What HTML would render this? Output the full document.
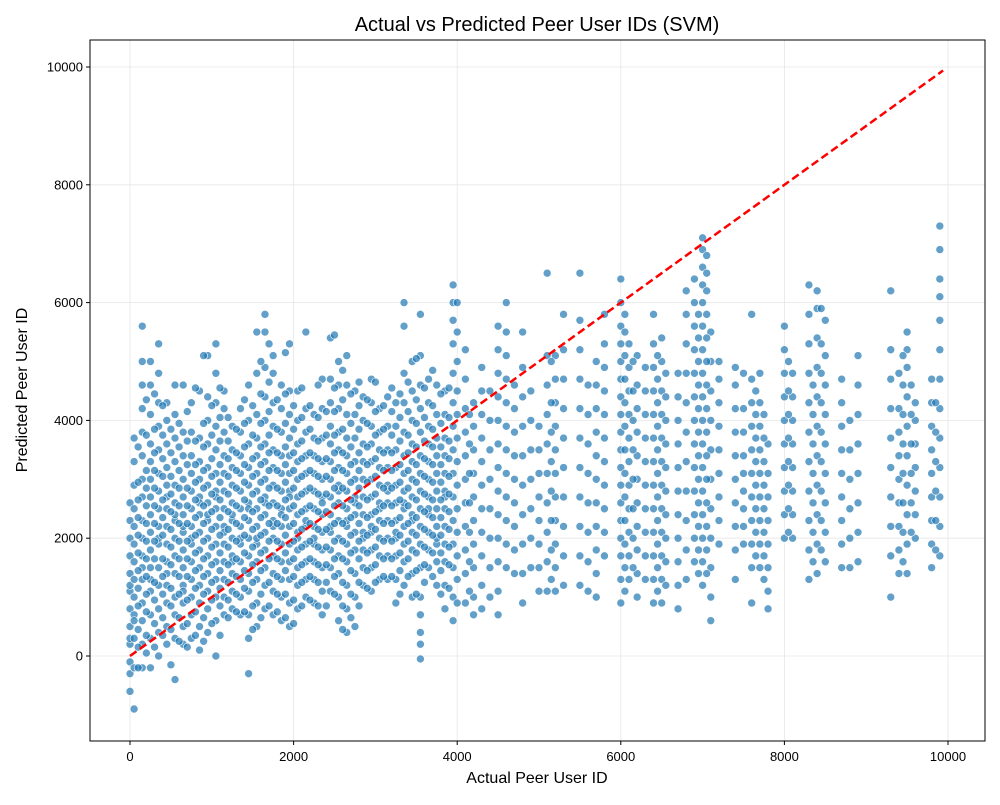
<!DOCTYPE html>
<html><head><meta charset="utf-8"><style>
body{margin:0;background:#fff;font-family:"Liberation Sans",sans-serif}
svg text{font-family:"Liberation Sans",sans-serif}
</style></head><body>
<svg id="chart" width="1000" height="800" xmlns="http://www.w3.org/2000/svg">
<rect width="1000" height="800" fill="#fff"/>
<text x="537" y="31" font-size="20" text-anchor="middle">Actual vs Predicted Peer User IDs (SVM)</text>
<text x="537" y="783" font-size="16" text-anchor="middle">Actual Peer User ID</text>
<text x="27" y="390" font-size="16" text-anchor="middle" transform="rotate(-90 27 390)">Predicted Peer User ID</text>
<g id="grid"></g><g id="pts"></g><g id="ln"></g><g id="ax"></g>
<rect x="90" y="40" width="895" height="701" fill="none" stroke="#000" stroke-width="1"/>
</svg>
<script>
const xTicks=[0,2000,4000,6000,8000,10000];
const yTicks=[0,2000,4000,6000,8000,10000];
const lineX=[0,9940];
const lineY=[0,9940];
const colX=[0,50,150,250,350,450,550,650,750,850,950,1050,1150,1250,1350,1450,1550,1650,1750,1850,1950,2050,2150,2250,2350,2450,2550,2650,2750,2850,2950,3050,3150,3250,3350,3450,3550,3650,3750,3850,3950,
4100,4200,4300,4500,4600,4700,4800,5000,5100,5200,5300,5500,5700,5800,6000,6100,6200,6300,6400,6500,6700,6800,6900,7000,7100,7200,7400,7500,7600,7700,7800,8000,8100,8300,8400,8500,8700,8800,8900,9300,9400,9500,9600,9800,9900];
const colY=[
[-300,-600,-100,200,500,800,1100,1400,1700,2000,2300,2600,300,1200],
[-900,-200,300,700,1000,1300,1600,1900,2200,2500,2900,3300,3700,600],
[-200,200,600,900,1300,1700,2000,2300,2700,3000,3400,3800,4200,4600,5000,5600,1500],
[-200,300,700,1100,1500,1800,2100,2400,2700,3000,3300,3600,4100,4600,5000,1300],
[0,400,800,1200,1500,1900,2200,2500,2800,3100,3500,3900,4300,4800,5300,2000],
[200,500,900,1200,1600,1900,2200,2500,2900,3200,3600,4000,4300,2700,1400],
[-400,300,700,1000,1400,1700,2000,2300,2600,2900,3300,3700,4100,4600,2400],
[200,500,900,1200,1500,1800,2100,2400,2700,3000,3400,3800,4600,2200,1100],
[300,700,1000,1300,1600,1900,2200,2500,2800,3100,3400,3800,4300,2000],
[100,500,900,1200,1500,1800,2100,2400,2700,3000,3300,3700,4500,2600],
[400,800,1100,1400,1700,2000,2300,2600,2900,3200,3600,4000,4400,5100,2400],
[0,600,1000,1300,1600,1900,2200,2500,2800,3100,3500,3900,4300,4800,5300,2700],
[700,1000,1300,1600,1900,2200,2500,2800,3100,3400,3800,4200,4500,2100],
[800,1100,1400,1700,2000,2300,2600,2900,3200,3500,3900,1600,2400],
[700,1000,1300,1600,1900,2200,2500,2800,3100,3400,3800,4200,2000],
[-300,300,700,1100,1400,1700,2000,2300,2600,2900,3200,3600,4000,4600,2500],
[500,900,1300,1600,1900,2200,2500,2800,3100,3400,3700,4100,4800,5500,2000],
[800,1200,1500,1800,2100,2400,2700,3000,3300,3600,4000,4400,4900,5500,5800,2600],
[700,1100,1400,1700,2000,2300,2600,2900,3200,3500,3900,4300,4800,5100,2200],
[600,1000,1300,1600,1900,2200,2500,2800,3100,3400,3800,4200,4600,2400],
[500,900,1300,1600,1900,2200,2500,2800,3100,3400,3700,4100,4500,5300,2700],
[800,1200,1500,1800,2100,2400,2700,3000,3300,3600,4000,4500,2000],
[1000,1300,1600,1900,2200,2500,2800,3100,3400,3800,4200,5500,2300],
[900,1300,1600,1900,2200,2500,2800,3100,3400,3700,4100,2000],
[700,1100,1500,1800,2100,2400,2700,3000,3300,3700,4200,4700,2600],
[1100,1500,1800,2100,2400,2700,3000,3300,3600,3900,4300,4700,5400,2200],
[600,1000,1400,1700,2000,2300,2600,2900,3200,3500,3800,4200,4600,5000,2800],
[400,800,1200,1600,1900,2200,2500,2800,3100,3400,3700,4100,4600,5100,2300],
[500,1000,1400,1800,2100,2400,2700,3000,3300,3700,4100,4500,2600],
[1200,1500,1800,2100,2400,2700,3000,3300,3600,4000,4400,2000],
[1100,1500,1800,2100,2400,2700,3000,3300,3600,3900,4300,4700,2200],
[1300,1700,2000,2300,2600,2900,3200,3500,3800,4200,2500],
[1300,1700,2000,2300,2600,2900,3200,3500,3900,4400,2800],
[900,1300,1700,2000,2300,2600,2900,3200,3500,3900,4300,2100],
[1200,1600,1900,2200,2500,2800,3100,3400,3800,4300,4800,5600,6000,2600],
[1000,1400,1800,2100,2400,2700,3000,3300,3600,4000,4500,5000,2300],
[-50,200,400,700,1000,1500,1900,2200,2500,2800,3100,3400,3800,4200,4600,5100,5800],
[1500,1800,2100,2400,2700,3000,3300,3600,3900,4300,4700,2500],
[1200,1600,1900,2200,2500,2800,3100,3400,3700,4100,4600,2000],
[800,1200,1600,1900,2200,2500,2800,3100,3400,3700,4100,4500,2700],
[600,1000,1500,1900,2300,2700,3100,3500,3900,4300,4800,5300,5700,6000,6300],
[900,1400,1800,2200,2600,3000,3400,3800,4200,4700,5200],
[700,1000,1500,1900,2300,2700,3100,3500,3900,4300],
[800,1200,1700,2100,2500,2900,3300,3700,4100,4500,4900],
[700,1100,1600,2000,2400,2800,3200,3600,4000,4400,4800,5200,5600],
[1500,1900,2300,2700,3100,3500,3900,4300,4700,5100,5500,6000],
[1400,1800,2200,2600,3000,3400,3800,4200,4600],
[900,1400,1900,2400,2900,3400,3900,4400,4900,5500],
[1100,1500,1900,2300,2700,3100,3500,3900],
[1100,1600,2100,2600,3100,3600,4100,4600,5100,6500],
[1100,1500,1900,2300,2700,3100,3500,3900,4300,4700,5100],
[1200,1700,2200,2700,3200,3700,4200,4700,5200,5800],
[1200,1700,2200,2700,3200,3700,4200,4700,5200,5700,6500],
[1000,1400,1800,2200,2600,3000,3400,3800,4200,4600,5000],
[1700,2100,2500,2900,3300,3700,4100,4500,4900,5300,5800],
[900,1300,1700,2000,2300,2600,2900,3200,3500,3800,4100,4400,4700,5000,5300,5600,6000,6400],
[1300,1700,2100,2500,2900,3300,3700,4100,4500,4900,5300],
[1000,1400,1800,2200,2600,3000,3400,3800,4200,4600,5100],
[1300,1700,2100,2500,2900,3300,3700,4100,4500,4900],
[900,1300,1700,2100,2500,2900,3300,3700,4100,4500,4900,5300,5800],
[900,1300,1700,2100,2500,2900,3300,3700,4100,4500,5000,5400],
[800,1200,1600,2000,2400,2800,3200,3600,4000,4400,4800],
[1300,1800,2300,2800,3300,3800,4300,4800,5300,5800,6200],
[1600,2000,2400,2800,3200,3600,4000,4400,4800,5200,5600,6000,6400],
[1200,1600,2000,2400,2800,3200,3600,4000,4400,4800,5200,5600,6000,6300,6600,6900,7100],
[600,1000,1500,2000,2500,3000,3500,4000,4500,5000,5500],
[1900,2300,2700,3100,3500,3900,4300,4700,5000],
[1300,1800,2200,2600,3000,3400,3800,4200,4600,4900],
[1900,2200,2500,2800,3100,3400,3800,4200,4800],
[900,1500,1900,2300,2700,3100,3500,3900,4300,4700,5800],
[1500,1900,2300,2700,3100,3500,3900,4300,4800],
[800,1100,1500,1900,2300,2700,3100,3600],
[2000,2400,2800,3200,3600,4000,4400,4800,5200,5600],
[2000,2400,2800,3200,3600,4000,4400,4800],
[1300,1800,2300,2800,3300,3800,4300,4800,5300,5800,6300],
[1400,1900,2400,2900,3400,3900,4400,4900,5400,5900,6200],
[1600,2100,2600,3100,3600,4100,4600,5100,5700],
[1500,1900,2300,2700,3100,3500,3900,4300,4700],
[1500,2000,2500,3000,3500,4000],
[1600,2100,2600,3100,3600,4100,4600,5100],
[1000,1700,2200,2700,3200,3700,4200,4700,5200,6200],
[1400,1800,2200,2600,3000,3400,3800,4200,4800],
[1400,1900,2400,2900,3400,3900,4400,4900,5200,5500],
[2000,2400,2800,3200,3600,4000,4300],
[1500,1900,2300,2700,3100,3500,3900,4300,4700],
[1700,2200,2700,3200,3700,4200,4700,5200,5700,6100,6400,6900,7300]];
const colX2=[100,200,300,400,500,600,700,800,900,1000,1100,1200,1300,1400,1500,1600,1700,1800,1900,2000,2100,2200,2300,2400,2500,2600,2700,2800,2900,3000,3100,3200,3300,3400,3500,3600,3700,3800,3900,4000,
4150,4400,4900,5150,5600,6050,6150,6450,6550,6950,7050,7650,7750,8050,8350,8450,9450,9550,9850];
const colY2=[
[-200,150,450,850,1150,1450,1750,2050,2350,2650,2950,3550],
[50,350,750,1050,1350,1650,1950,2250,2550,2850,3150,3750,4350],
[150,550,950,1250,1650,1950,2250,2550,2850,3150,3450,3850,4450],
[350,650,1050,1350,1650,2050,2350,2650,3050,3350,3750,4250],
[-150,450,850,1150,1550,1850,2150,2450,2750,3050,3450,3850],
[250,650,1050,1350,1650,1950,2250,2550,2850,3150,3550,3950],
[150,550,950,1350,1650,1950,2250,2550,2850,3250,3650,4150],
[350,750,1150,1450,1750,2050,2350,2650,2950,3250,3650,4550],
[250,650,1050,1350,1650,1950,2250,2550,2850,3150,3550,3950,5100],
[550,950,1250,1550,1850,2150,2450,2750,3050,3350,3750,4250],
[350,850,1150,1450,1750,2050,2350,2650,2950,3250,3650,4050,4550],
[650,950,1250,1550,1850,2150,2450,2750,3050,3350,3650,4050],
[750,1050,1350,1650,1950,2250,2550,2850,3150,3450,3850],
[750,1150,1450,1750,2050,2350,2650,2950,3250,3550,3950,4350],
[450,850,1250,1550,1850,2150,2450,2750,3050,3350,3750,4250],
[650,1050,1450,1750,2050,2350,2650,2950,3250,3550,3950,4450,5000],
[850,1250,1650,1950,2250,2550,2850,3150,3450,3750,4150,4650,5300],
[750,1050,1350,1650,1950,2250,2550,2850,3150,3450,3850,4350],
[650,1050,1450,1750,2050,2350,2650,2950,3250,3550,3950,4450,5150],
[550,950,1350,1650,1950,2250,2550,2850,3150,3450,3850,4250],
[850,1250,1550,1850,2150,2450,2750,3050,3350,3650,4050,4550],
[950,1350,1650,1950,2250,2550,2850,3150,3450,3850,4250],
[850,1250,1550,1850,2150,2450,2750,3050,3350,3650,4050,4600],
[850,1250,1550,1850,2150,2450,2750,3050,3350,3750,4150],
[1050,1350,1650,1950,2250,2550,2850,3150,3450,3750,4150,4550,5450],
[450,850,1250,1650,1950,2250,2550,2850,3150,3450,3850,4350,4850],
[650,1050,1450,1750,2050,2350,2650,2950,3250,3550,3950,4450],
[850,1250,1650,1950,2250,2550,2850,3150,3450,3850,4250,4650],
[1150,1450,1750,2050,2350,2650,2950,3250,3550,3950,4350],
[1250,1550,1850,2150,2450,2750,3050,3350,3750,4150,4650],
[1350,1650,1950,2250,2550,2850,3150,3450,3850,4250],
[1350,1650,1950,2250,2550,2850,3150,3450,3750,4150,4550],
[1050,1450,1750,2050,2350,2650,2950,3250,3650,4050,4450],
[1350,1650,1950,2250,2550,2850,3150,3450,3750,4150,4650],
[1050,1450,1750,2050,2350,2650,2950,3250,3550,3950,4350,5050],
[1250,1550,1850,2150,2450,2750,3050,3350,3650,4050,4550],
[1350,1750,2050,2350,2650,2950,3250,3550,3850,4250,4850],
[1050,1450,1750,2050,2350,2650,2950,3250,3550,3950,4450],
[1150,1550,1850,2150,2450,2750,3050,3350,3650,4050,4550],
[900,1300,1700,2100,2500,2900,3300,3700,4100,4500,5000,5500,6000],
[1100,1600,2100,2600,3100,3600,4100],
[1000,1500,2000,2500,3000,3500,4000,4500],
[1500,2000,2500,3000,3500,4000,4500],
[1300,1800,2300,2800,3300,3800,4300,5000],
[1100,1600,2100,2600,3100,3600,4100,4600],
[1100,1500,1900,2300,2700,3100,3500,3900,4300,4700,5100,5500,5800],
[1500,2000,2500,3000,3500,4000,4500,5000],
[1100,1500,1900,2300,2700,3100,3500,3900,4300,4700,5100],
[1200,1600,2000,2400,2800,3200,3600,4000,4400,4800],
[1400,1800,2200,2600,3000,3400,3800,4200,4600,5000,5400,5800],
[1400,1800,2200,2600,3000,3400,3800,4200,4600,5000,5400,5800,6200,6500,6800],
[1700,2100,2500,2900,3300,3700,4100,4500],
[1300,1700,2100,2500,2900,3300,3700,4100],
[2100,2500,2900,3300,3700,4100,4500,5000],
[1600,2100,2600,3100,3600,4100,4600],
[1800,2300,2800,3300,3800,4300,4800,5300,5900],
[1600,2100,2600,3100,3600,4100,4600,5100],
[2100,2600,3100,3600,4100,4600],
[1800,2300,2800,3300,3800,4300]];
const NS="http://www.w3.org/2000/svg";
const X0=130,XS=(948-130)/10000,Y0=656,YS=(656-67)/10000;
const sx=v=>X0+v*XS, sy=v=>Y0-v*YS;
function mk(t,a,p){const e=document.createElementNS(NS,t);for(const k in a)e.setAttribute(k,a[k]);p.appendChild(e);return e;}
const grid=document.getElementById('grid'),ax=document.getElementById('ax'),pts=document.getElementById('pts'),ln=document.getElementById('ln');
xTicks.forEach(v=>{const x=sx(v);
const g=mk('line',{x1:x,x2:x,y1:40,y2:741,stroke:'#e6e6e6','stroke-width':0.8},grid);


mk('line',{x1:x,x2:x,y1:741,y2:745,stroke:'#000'},ax);
const t=mk('text',{x:x,y:761,'font-size':13,'text-anchor':'middle'},ax);t.textContent=v;

});
yTicks.forEach(v=>{const y=sy(v);
const g=mk('line',{x1:90,x2:985,y1:y,y2:y,stroke:'#e6e6e6','stroke-width':0.8},grid);


mk('line',{x1:86,x2:90,y1:y,y2:y,stroke:'#000'},ax);
const t=mk('text',{x:83,y:y+4.5,'font-size':13,'text-anchor':'end'},ax);t.textContent=v;

});
function drawSet(xs,yss){xs.forEach((cx,i)=>{yss[i].forEach(v=>{
const c=mk('circle',{cx:sx(cx),cy:sy(v),r:4,fill:'#1f77b4','fill-opacity':0.7,stroke:'#fff','stroke-width':0.6},pts);

});});}
drawSet(colX,colY);
drawSet(colX2,colY2);
const l=mk('line',{x1:sx(lineX[0]),y1:sy(lineY[0]),x2:sx(lineX[1]),y2:sy(lineY[1]),stroke:'#ff0000','stroke-width':2.5,'stroke-dasharray':'8,4'},ln);


</script>
</body></html>
